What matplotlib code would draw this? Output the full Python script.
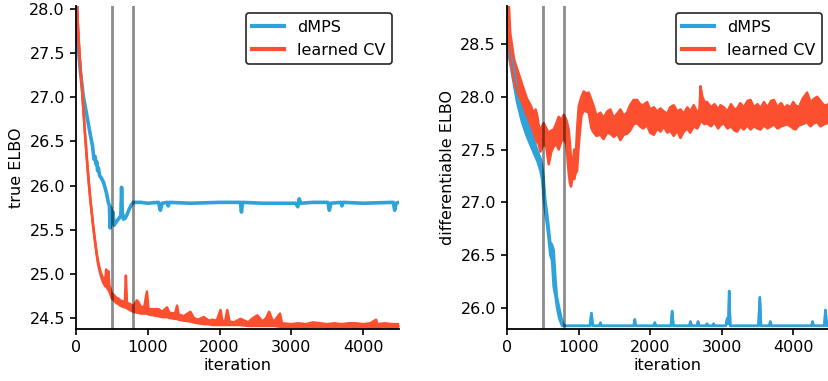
import numpy as np
import matplotlib
matplotlib.use('Agg')
import matplotlib.pyplot as plt

# ---- left panel: true ELBO ----
true_dmps_it = [0, 10, 25, 60, 102, 150, 196, 230, 250, 266, 280, 290, 300, 312, 330, 350,
                382, 410, 429, 452, 465, 475, 485, 500, 515, 530, 545, 570, 600, 625, 635,
                645, 660, 685, 710, 740, 770, 800, 900, 1000, 1150, 1175, 1200, 1270, 1285,
                1300, 1600, 2000, 2290, 2305, 2320, 2600, 3060, 3090, 3110, 3130, 3300,
                3510, 3530, 3550, 3690, 3705, 3720, 4000, 4420, 4440, 4460, 4500]
true_dmps = [28.4, 28.0, 27.65, 27.3, 27.01, 26.80, 26.59, 26.45, 26.30, 26.33, 26.24, 26.27,
             26.17, 26.20, 26.11, 26.09, 26.04, 25.96, 25.90, 25.80, 25.78, 25.52, 25.75,
             25.62, 25.70, 25.55, 25.57, 25.60, 25.63, 25.66, 25.98, 25.70, 25.62, 25.63,
             25.67, 25.73, 25.78, 25.81, 25.81, 25.80, 25.81, 25.72, 25.80, 25.81, 25.77,
             25.81, 25.80, 25.81, 25.81, 25.70, 25.81, 25.80, 25.80, 25.76, 25.85, 25.80,
             25.81, 25.81, 25.72, 25.80, 25.81, 25.77, 25.81, 25.80, 25.81, 25.72, 25.80,
             25.81]

true_cv_it = [0, 10, 33, 55, 79, 100, 126, 150, 172, 200,
              242, 265, 289, 310, 336, 360, 380, 406, 420, 435,
              450, 465, 499, 530, 560, 590, 615, 680, 695, 710,
              750, 800, 848, 870, 900, 950, 988, 1010, 1081, 1150,
              1200, 1268, 1300, 1380, 1408, 1430, 1500, 1594, 1640, 1700,
              1781, 1850, 1900, 1960, 2014, 2040, 2080, 2107, 2140, 2200,
              2293, 2400, 2450, 2526, 2600, 2650, 2690, 2750, 2842, 2870,
              3000, 3100, 3200, 3300, 3400, 3500, 3600, 3700, 3800, 3900,
              4000, 4100, 4180, 4200, 4300, 4400, 4500]
true_cv_hi = [28.6, 28.1, 27.72, 27.42, 27.16, 26.90, 26.59, 26.33, 26.10, 25.85,
              25.53, 25.38, 25.23, 25.13, 25.04, 24.98, 24.95, 24.92, 25.05, 24.90,
              25.03, 24.87, 24.78, 24.76, 24.73, 24.72, 24.70, 24.68, 24.98, 24.67,
              24.66, 24.63, 24.70, 24.68, 24.63, 24.62, 24.80, 24.60, 24.60, 24.60,
              24.57, 24.62, 24.56, 24.55, 24.64, 24.54, 24.52, 24.57, 24.50, 24.48,
              24.51, 24.47, 24.48, 24.47, 24.59, 24.46, 24.47, 24.59, 24.46, 24.45,
              24.49, 24.45, 24.49, 24.53, 24.46, 24.50, 24.57, 24.45, 24.55, 24.44,
              24.43, 24.44, 24.43, 24.45, 24.44, 24.43, 24.44, 24.43, 24.44, 24.44,
              24.43, 24.44, 24.48, 24.43, 24.44, 24.43, 24.43]
true_cv_lo = [28.58, 28.08, 27.70, 27.40, 27.14, 26.88, 26.57, 26.31, 26.08, 25.83,
              25.51, 25.36, 25.21, 25.10, 25.01, 24.94, 24.90, 24.86, 24.86, 24.84,
              24.82, 24.80, 24.72, 24.70, 24.67, 24.66, 24.64, 24.62, 24.62, 24.61,
              24.59, 24.57, 24.56, 24.56, 24.55, 24.55, 24.55, 24.54, 24.53, 24.52,
              24.51, 24.51, 24.50, 24.49, 24.49, 24.48, 24.47, 24.46, 24.45, 24.44,
              24.43, 24.43, 24.42, 24.42, 24.42, 24.42, 24.42, 24.42, 24.42, 24.42,
              24.42, 24.41, 24.41, 24.41, 24.41, 24.41, 24.41, 24.41, 24.40, 24.40,
              24.40, 24.40, 24.39, 24.40, 24.40, 24.39, 24.40, 24.39, 24.40, 24.39,
              24.40, 24.39, 24.40, 24.39, 24.40, 24.39, 24.40]

# ---- right panel: differentiable ELBO, noisy bands (lower / upper edge) ----
diff_dmps_it = [0, 35, 70, 140, 210, 280, 373, 430, 466, 490, 510, 536, 560, 582, 605, 629,
                652, 680, 699, 730, 769, 800, 1160, 1180, 1200, 1290, 1306, 1320, 1770, 1786,
                1800, 2050, 2066, 2080, 2290, 2308, 2325, 2550, 2564, 2580, 2655, 2670, 2685,
                2780, 2795, 2810, 2875, 2888, 2900, 3060, 3077, 3095, 3105, 3120, 3515, 3533,
                3550, 3665, 3680, 3695, 4255, 4270, 4285, 4435, 4450, 4470, 4500]
diff_dmps_lo = [28.55, 28.35, 28.22, 27.95, 27.76, 27.62, 27.47, 27.38, 27.30, 27.22, 27.05,
                26.90, 26.78, 26.65, 26.50, 26.45, 26.20, 26.10, 26.00, 25.90, 25.83, 25.83,
                25.83, 25.95, 25.83, 25.83, 25.86, 25.83, 25.83, 25.89, 25.83, 25.83, 25.86,
                25.83, 25.83, 25.97, 25.83, 25.83, 25.87, 25.83, 25.83, 25.87, 25.83, 25.83,
                25.85, 25.83, 25.83, 25.85, 25.83, 25.83, 25.90, 25.85, 26.16, 25.83, 25.83,
                26.10, 25.83, 25.83, 25.87, 25.83, 25.83, 25.87, 25.83, 25.83, 25.98, 25.83,
                25.83]
diff_dmps_hi = [28.75, 28.50, 28.36, 28.08, 27.90, 27.78, 27.60, 27.48, 27.42, 27.35, 27.25,
                27.02, 26.90, 26.77, 26.62, 26.60, 26.55, 26.25, 26.10, 26.00, 25.88, 25.83,
                25.83, 25.95, 25.83, 25.83, 25.86, 25.83, 25.83, 25.89, 25.83, 25.83, 25.86,
                25.83, 25.83, 25.97, 25.83, 25.83, 25.87, 25.83, 25.83, 25.87, 25.83, 25.83,
                25.85, 25.83, 25.83, 25.85, 25.83, 25.83, 25.90, 25.85, 26.16, 25.83, 25.83,
                26.10, 25.83, 25.83, 25.87, 25.83, 25.83, 25.87, 25.83, 25.83, 25.98, 25.83,
                25.83]

diff_cv_it = [0, 20, 46, 100, 163, 220, 280, 330, 373, 400,
              420, 445, 466, 490, 513, 550, 583, 620, 653, 690,
              723, 760, 793, 830, 862, 880, 895, 920, 940, 956,
              980, 1003, 1040, 1072, 1110, 1142, 1180, 1212, 1250, 1305,
              1350, 1400, 1445, 1490, 1540, 1585, 1630, 1678, 1720, 1770,
              1818, 1860, 1900, 1958, 2000, 2052, 2100, 2144, 2192, 2240,
              2280, 2330, 2380, 2424, 2470, 2520, 2560, 2610, 2660, 2690,
              2704, 2730, 2760, 2797, 2850, 2900, 2950, 2983, 3030, 3080,
              3130, 3180, 3216, 3260, 3310, 3360, 3403, 3450, 3500, 3543,
              3590, 3640, 3690, 3729, 3780, 3830, 3880, 3915, 3960, 4000,
              4031, 4080, 4130, 4194, 4240, 4290, 4334, 4380, 4430, 4474,
              4500]
diff_cv_lo = [28.90, 28.62, 28.36, 28.14, 28.02, 27.93, 27.82, 27.74, 27.66, 27.60,
              27.57, 27.55, 27.48, 27.52, 27.56, 27.52, 27.36, 27.48, 27.53, 27.55,
              27.50, 27.58, 27.60, 27.55, 27.28, 27.18, 27.15, 27.25, 27.22, 27.27,
              27.30, 27.55, 27.82, 27.87, 27.86, 27.85, 27.70, 27.66, 27.63, 27.64,
              27.60, 27.66, 27.65, 27.62, 27.65, 27.59, 27.64, 27.65, 27.68, 27.74,
              27.75, 27.72, 27.70, 27.73, 27.66, 27.64, 27.70, 27.67, 27.72, 27.66,
              27.68, 27.63, 27.68, 27.61, 27.67, 27.70, 27.66, 27.72, 27.70, 27.74,
              27.78, 27.76, 27.74, 27.75, 27.72, 27.76, 27.70, 27.73, 27.75, 27.70,
              27.72, 27.68, 27.67, 27.72, 27.69, 27.73, 27.69, 27.72, 27.70, 27.69,
              27.73, 27.70, 27.72, 27.74, 27.70, 27.72, 27.73, 27.74, 27.72, 27.70,
              27.69, 27.73, 27.74, 27.76, 27.72, 27.75, 27.76, 27.72, 27.74, 27.75,
              27.76]
diff_cv_hi = [29.00, 28.95, 28.60, 28.35, 28.22, 28.10, 27.98, 27.92, 27.84, 27.88,
              27.83, 27.72, 27.69, 27.72, 27.75, 27.70, 27.66, 27.68, 27.69, 27.75,
              27.81, 27.78, 27.83, 27.78, 27.69, 27.55, 27.40, 27.38, 27.50, 27.37,
              27.70, 27.91, 28.00, 28.05, 28.03, 28.04, 27.97, 27.91, 27.82, 27.85,
              27.80, 27.86, 27.88, 27.80, 27.84, 27.88, 27.82, 27.85, 27.92, 27.97,
              27.97, 27.93, 27.92, 27.95, 27.88, 27.90, 27.86, 27.89, 27.86, 27.84,
              27.90, 27.92, 27.86, 27.88, 27.84, 27.90, 27.86, 27.92, 27.85, 27.88,
              28.10, 28.00, 27.95, 27.95, 27.90, 27.93, 27.88, 27.92, 27.90, 27.86,
              27.93, 27.88, 27.89, 27.94, 27.90, 27.96, 27.97, 27.90, 27.93, 27.89,
              27.95, 27.90, 27.96, 27.97, 27.90, 27.94, 27.89, 27.92, 27.90, 27.95,
              27.92, 27.90, 27.98, 28.04, 27.95, 27.98, 28.00, 27.96, 27.92, 27.92,
              27.94]

milestones = [500, 800]

blue = '#30a2da'
red = '#fc4f30'

plt.rcParams['font.family'] = 'DejaVu Sans'
FS = 11.5


def band(ax, x, lo, hi, color):
    ax.fill_between(x, lo, hi, color=color, lw=0)
    ax.plot(x, lo, c=color, lw=1.8)
    ax.plot(x, hi, c=color, lw=1.8)


fig = plt.figure(figsize=(8.29, 3.81), dpi=100)
ax1 = fig.add_axes([76 / 829, 52 / 381, 323 / 829, 323 / 381])
ax2 = fig.add_axes([507 / 829, 52 / 381, 322 / 829, 323 / 381])

ax1.plot(true_dmps_it, true_dmps, c=blue, lw=2.6)
band(ax1, true_cv_it, true_cv_lo, true_cv_hi, red)

band(ax2, diff_dmps_it, diff_dmps_lo, diff_dmps_hi, blue)
band(ax2, diff_cv_it, diff_cv_lo, diff_cv_hi, red)

for ax in [ax1, ax2]:
    for m in milestones:
        ax.axvline(m, color='k', alpha=0.45, lw=2)
    ax.spines['top'].set_visible(False)
    ax.spines['right'].set_visible(False)
    ax.spines['left'].set_linewidth(1.3)
    ax.spines['bottom'].set_linewidth(1.3)
    ax.tick_params(axis='both', which='major', labelsize=FS, length=4.5, width=1.2)
    ax.set_xlim([0, 4500])
    ax.set_xticks([0, 1000, 2000, 3000, 4000])
    ax.set_xlabel('iteration', fontsize=FS, labelpad=2)
    h1, = ax.plot([], [], c=blue, lw=3, label='dMPS')
    h2, = ax.plot([], [], c=red, lw=3, label='learned CV')
    leg = ax.legend(handles=[h1, h2], loc='upper right', fontsize=FS, fancybox=True,
                    framealpha=1, borderaxespad=0.45)
    leg.get_frame().set_edgecolor('0.15')
    leg.get_frame().set_linewidth(1.2)

ax1.set_ylim([24.375, 28.035])
ax1.set_yticks([24.5, 25.0, 25.5, 26.0, 26.5, 27.0, 27.5, 28.0])
ax1.set_ylabel('true ELBO', fontsize=FS)

ax2.set_ylim([25.80, 28.86])
ax2.set_yticks([26.0, 26.5, 27.0, 27.5, 28.0, 28.5])
ax2.set_ylabel('differentiable ELBO', fontsize=FS)

plt.savefig('out.png', dpi=100)
